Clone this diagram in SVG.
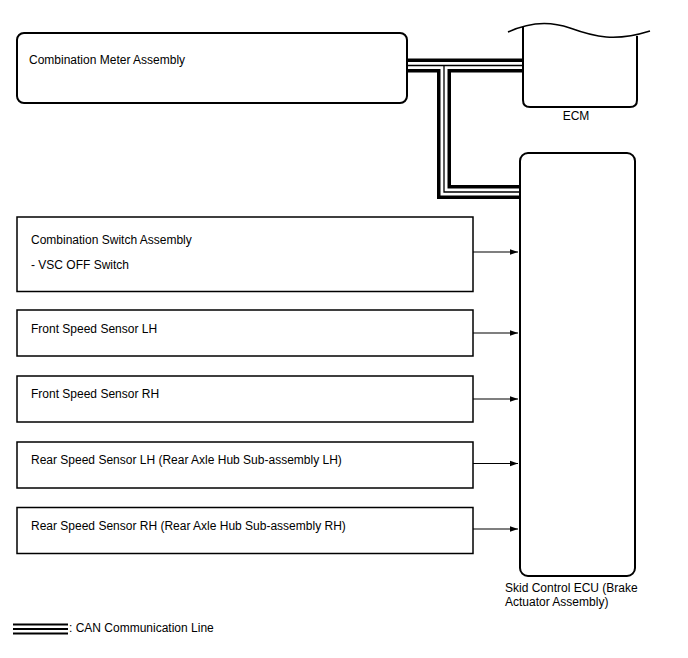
<svg xmlns="http://www.w3.org/2000/svg" width="688" height="658" viewBox="0 0 688 658">
<defs>
<style>
text{font-family:"Liberation Sans",Arial,sans-serif;font-size:12px;fill:#000}
.box{fill:#fff;stroke:#000;stroke-width:1.5}
.rbox{fill:#fff;stroke:#000;stroke-width:2}
.conn{stroke:#000;stroke-width:1.2;fill:none}
.busA{stroke:#000;stroke-width:14;fill:none}
.busB{stroke:#fff;stroke-width:7;fill:none}
.busC{stroke:#000;stroke-width:1.3;fill:none}
</style>
<marker id="arr" viewBox="0 0 10 10" refX="10" refY="5" markerWidth="8" markerHeight="8" markerUnits="userSpaceOnUse" orient="auto">
<path d="M0,1.5 L10,5 L0,8.5 z" fill="#000"/>
</marker>
</defs>
<rect width="688" height="658" fill="#fff"/>
<g id="connectors">
<path class="busA" d="M407,65.5 H523 M444,65.5 V192 H520"/>
<path class="busB" d="M407,65.5 H523 M444,65.5 V192 H520"/>
<path class="busC" d="M407,65.5 H523 M444,65.5 V192 H520"/>
<path class="conn" d="M473,252 H518" marker-end="url(#arr)"/>
<path class="conn" d="M473,333 H518" marker-end="url(#arr)"/>
<path class="conn" d="M473,399 H518" marker-end="url(#arr)"/>
<path class="conn" d="M473,463.5 H518" marker-end="url(#arr)"/>
<path class="conn" d="M473,529 H518" marker-end="url(#arr)"/>
</g>
<g id="meter">
<rect class="rbox" x="17" y="33" width="390" height="70" rx="7"/>
<text x="29" y="64">Combination Meter Assembly</text>
</g>
<g id="ecm">
<path d="M523,27 V100 Q523,107 530,107 H630 Q637,107 637,100 V36" fill="#fff" stroke="#000" stroke-width="2"/>
<path d="M508,32 C525,24 545,19 570,28 C595,37 615,42 650,31" fill="none" stroke="#000" stroke-width="1.5"/>
<text x="576" y="120" text-anchor="middle">ECM</text>
</g>
<g id="skid">
<rect class="rbox" x="520" y="153" width="115" height="423" rx="8"/>
<text x="505" y="592">Skid Control ECU (Brake</text>
<text x="505" y="606">Actuator Assembly)</text>
</g>
<g id="switch">
<rect class="box" x="17" y="217" width="456" height="74.5"/>
<text x="31" y="244">Combination Switch Assembly</text>
<text x="31" y="269">- VSC OFF Switch</text>
</g>
<g id="fl">
<rect class="box" x="17" y="310" width="456" height="46"/>
<text x="31" y="332.5">Front Speed Sensor LH</text>
</g>
<g id="fr">
<rect class="box" x="17" y="376" width="456" height="46"/>
<text x="31" y="398">Front Speed Sensor RH</text>
</g>
<g id="rl">
<rect class="box" x="17" y="442" width="456" height="46"/>
<text x="31" y="464">Rear Speed Sensor LH (Rear Axle Hub Sub-assembly LH)</text>
</g>
<g id="rr">
<rect class="box" x="17" y="507.5" width="456" height="46"/>
<text x="31" y="529.5">Rear Speed Sensor RH (Rear Axle Hub Sub-assembly RH)</text>
</g>
<g id="legend">
<path d="M13,624.5 H68 M13,629 H68 M13,633.5 H68" stroke="#000" stroke-width="2" fill="none"/>
<text x="69" y="632">: CAN Communication Line</text>
</g>
</svg>
